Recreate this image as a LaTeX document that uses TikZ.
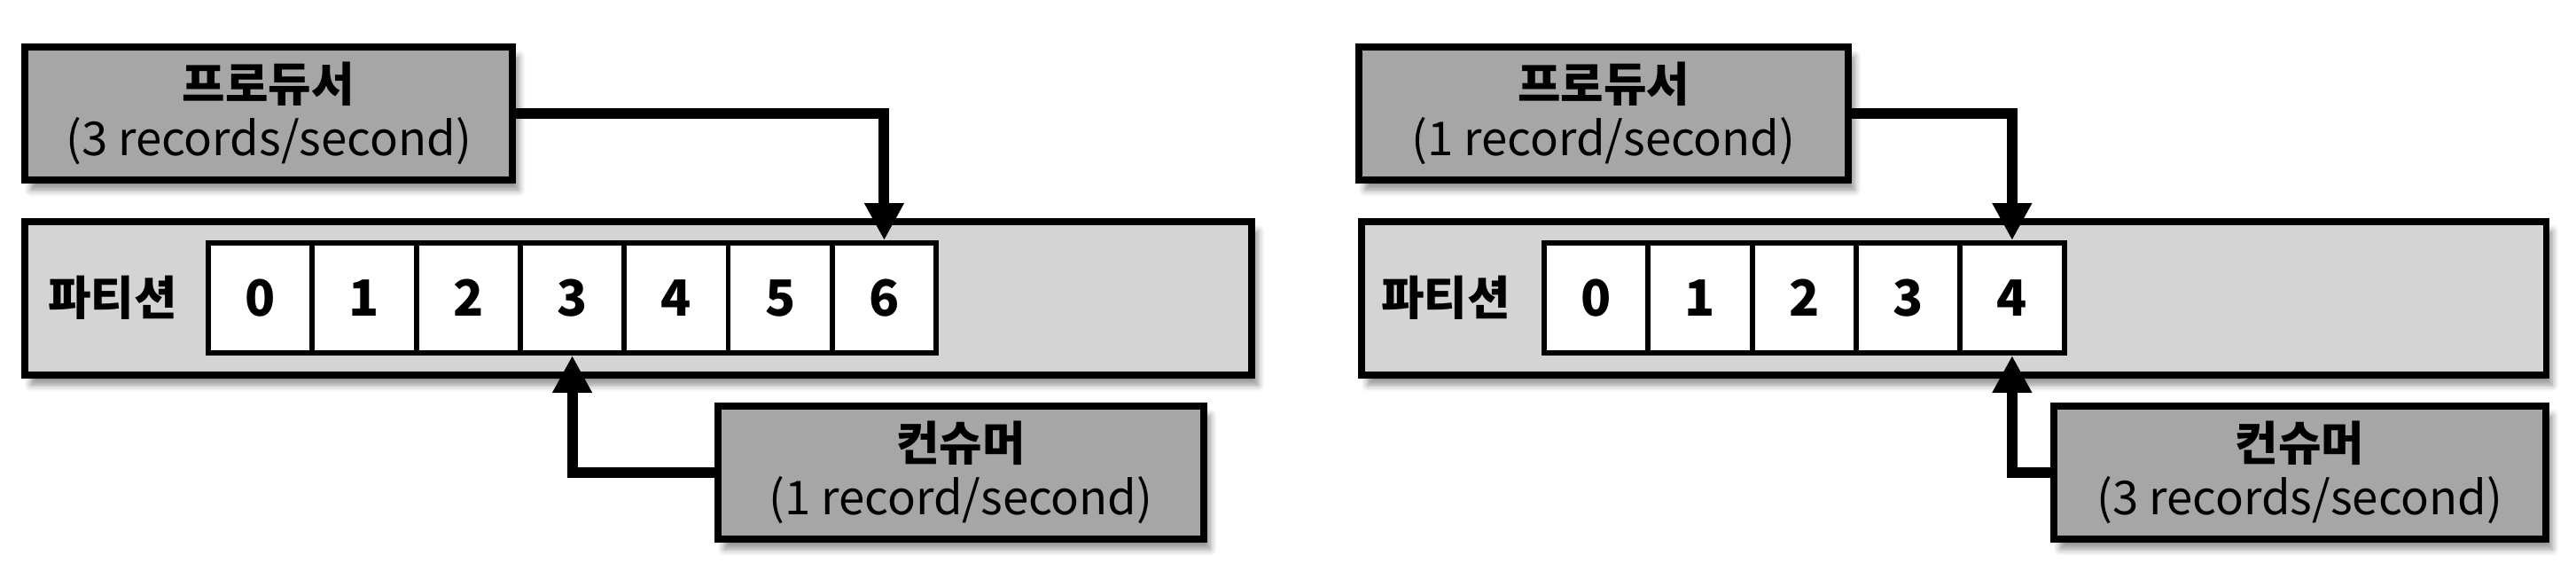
\documentclass[tikz,border=0pt]{standalone}
\usepackage{fontspec}
\setmainfont{Noto Sans CJK KR}
\usetikzlibrary{arrows.meta,shadows.blur}

\begin{document}
\begin{tikzpicture}[
    softshadow/.style={blur shadow={shadow xshift=0.07cm, shadow yshift=-0.11cm, shadow blur steps=6, shadow opacity=45}},
    rolebox/.style={draw, line width=2.2pt, fill=black!35, align=center, inner sep=0pt, minimum height=1.5cm, font=\fontsize{15}{17.5}\selectfont, softshadow},
    partbox/.style={draw, line width=2pt, fill=black!17, inner sep=0pt, minimum height=1.73cm, softshadow},
    cell/.style={draw, line width=1.7pt, fill=white, inner sep=0pt, minimum width=1.173cm, minimum height=1.24cm, font=\fontsize{16}{16}\selectfont\bfseries},
    tag/.style={font=\fontsize{15}{15}\selectfont\bfseries},
    feed/.style={line width=3.4pt, -{Triangle[width=0.42cm,length=0.42cm]}}
]
    \useasboundingbox (0,0) rectangle (29.06,-6.52);

    % Fast producer, slow consumer
    \node[rolebox, minimum width=5.5cm] (prodL) at (3.03,-1.28) {\textbf{프로듀서}\\(3 records/second)};
    \node[partbox, minimum width=13.84cm] (partL) at (7.20,-3.365) {};
    \node[tag] (tagL) at (1.27,-3.36) {파티션};
    \foreach \i in {0,...,6}
        \node[cell] (cl\i) at ({2.9365+1.173*\i},-3.36) {\i};
    \node[rolebox, minimum width=5.48cm] (consL) at (10.84,-5.33) {\textbf{컨슈머}\\(1 record/second)};
    \draw[feed] (prodL.east) -| (cl6.north);
    \draw[feed] (consL.west) -| (cl3.south);

    % Slow producer, fast consumer
    \node[rolebox, minimum width=5.52cm] (prodR) at (18.09,-1.28) {\textbf{프로듀서}\\(1 record/second)};
    \node[partbox, minimum width=13.36cm] (partR) at (22.04,-3.365) {};
    \node[tag] (tagR) at (16.31,-3.36) {파티션};
    \foreach \i in {0,...,4}
        \node[cell] (cr\i) at ({18.0065+1.173*\i},-3.36) {\i};
    \node[rolebox, minimum width=5.55cm] (consR) at (25.945,-5.33) {\textbf{컨슈머}\\(3 records/second)};
    \draw[feed] (prodR.east) -| (cr4.north);
    \draw[feed] (consR.west) -| (cr4.south);
\end{tikzpicture}
\end{document}
